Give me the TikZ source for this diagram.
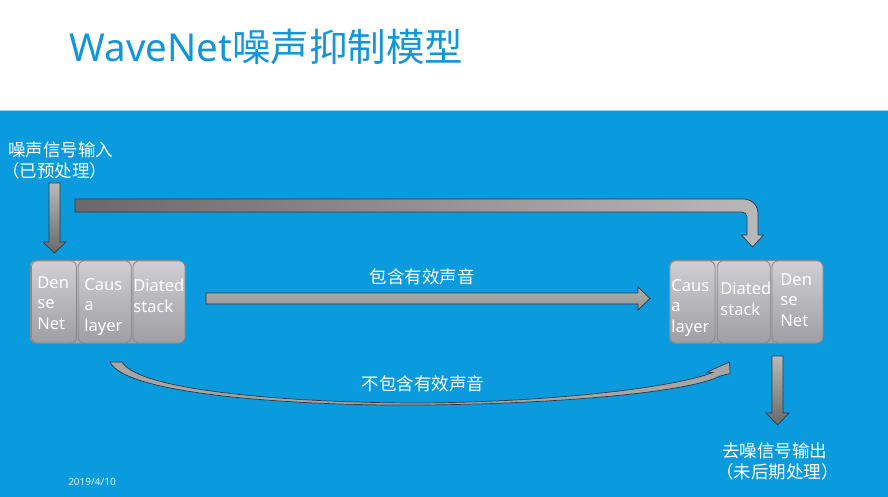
\documentclass[tikz,border=0pt]{standalone}
\usepackage{fontspec}
\setmainfont{Noto Sans}
\newfontfamily\cjk{Noto Sans CJK SC}
\usepackage{xcolor}
\usetikzlibrary{positioning}
\definecolor{slideblue}{RGB}{9,155,221}
\definecolor{titleblue}{RGB}{18,150,218}
\definecolor{boxtop}{RGB}{208,207,211}
\definecolor{boxbot}{RGB}{158,158,163}
\definecolor{boxline}{RGB}{135,135,140}
\definecolor{arrlight}{RGB}{185,185,185}
\definecolor{arrdark}{RGB}{105,105,105}
\definecolor{arrline}{RGB}{50,55,62}

\begin{document}
\begin{tikzpicture}[x=1pt,y=-1pt,line width=0.8pt,
  cell/.style={draw=boxline,rounded corners=6pt,top color=boxtop,bottom color=boxbot,
    anchor=north west,inner sep=0pt,minimum height=82},
  celltext/.style={text=white,align=left,anchor=west,inner sep=0pt,
    font=\fontsize{16.5}{20.5}\selectfont},
  note/.style={text=white,align=left,inner sep=0pt,font=\fontsize{17.5}{21}\selectfont\cjk},
  blockarrow/.style={draw=arrline,line width=0.7pt}]
  \useasboundingbox (0,0) rectangle (888,497);
  \fill[white] (0,0) rectangle (888,110);
  \fill[slideblue] (0,110) rectangle (888,497);
  \draw[slideblue!45!white,line width=0.8pt] (0,110.4) -- (888,110.4);

  \node[anchor=west,inner sep=0pt,text=titleblue,font=\fontsize{38.5}{44}\selectfont] (title) at (69,47)
    {WaveNet{\cjk 噪声抑制模型}};

  % left stack
  \node[cell,minimum width=153,minimum height=83] (lgroup) at (30,260) {};
  \node[cell,minimum width=45] (ldense) at (31,260.5) {};
  \node[cell,minimum width=53] (lcausal) [right=1pt of ldense] {};
  \node[cell,minimum width=52] (ldilated) [right=1pt of lcausal] {};
  \node[celltext] (tldense) at (37,303) {Den\\se\\Net};
  \node[celltext] (tlcausal) at (84,307) {Caus\\a\\layer};
  \node[celltext] (tldilated) at (133,296) {Diated\\stack};

  % right stack
  \node[cell,minimum width=152,minimum height=83] (rgroup) at (669,260) {};
  \node[cell,minimum width=45] (rcausal) at (669.5,260.5) {};
  \node[cell,minimum width=53] (rdilated) [right=1.5pt of rcausal] {};
  \node[cell,minimum width=51] (rdense) [right=1pt of rdilated] {};
  \node[celltext] (trcausal) at (671,308) {Caus\\a\\layer};
  \node[celltext] (trdilated) at (720,299) {Diated\\stack};
  \node[celltext] (trdense) at (780,300) {Den\\se\\Net};

  % texts
  \node[note,anchor=west] (input) at (8,160) {噪声信号输入\\\kern-6pt（已预处理）};
  \node[note,anchor=west] (output) at (722,461) {去噪信号输出\\\kern-6pt（未后期处理）};
  \node[note,inner sep=0pt] (keep) at (422,277) {包含有效声音};
  \node[note,inner sep=0pt] (drop) at (423,384) {不包含有效声音};
  \node[text=white!88!slideblue,inner sep=0pt,font=\fontsize{10}{12}\selectfont] (date) at (92,482) {2019/4/10};

  % block arrows
  \path[blockarrow,top color=arrlight,bottom color=arrdark]
    (49,183) -- (60,183) -- (60,242) -- (66,242) -- (54.5,253) -- (43,242) -- (49,242) -- cycle;
  \path[blockarrow,left color=arrdark,right color=arrlight]
    (75,199) -- (743,199) .. controls (752,199) and (758,205) .. (758,214) -- (758,235)
    -- (763.5,235) -- (752.5,247) -- (741.5,235) -- (747,235) -- (747,217)
    .. controls (747,214) and (745,212) .. (742,212) -- (75,212) -- cycle;
  \path[blockarrow,top color=arrlight!95!black,bottom color=arrlight!80!black]
    (206,293) -- (638,293) -- (638,287) -- (650,298.5) -- (638,310) -- (638,304) -- (206,304) -- cycle;
  \path[blockarrow,fill=arrlight!90!black]
    (110,362) .. controls (125,395) and (300,406) .. (420,405)
    .. controls (560,404) and (690,392) .. (720,376) -- (730,373.5) -- (729.5,362)
    -- (707,372) -- (712.5,372.5) .. controls (680,386) and (560,402) .. (420,403)
    .. controls (300,403) and (140,392) .. (122,362) -- cycle;
  \path[blockarrow,top color=arrlight,bottom color=arrdark]
    (772,356) -- (783,356) -- (783,413) -- (789,413) -- (777.5,425) -- (766,413) -- (772,413) -- cycle;
\end{tikzpicture}
\end{document}
